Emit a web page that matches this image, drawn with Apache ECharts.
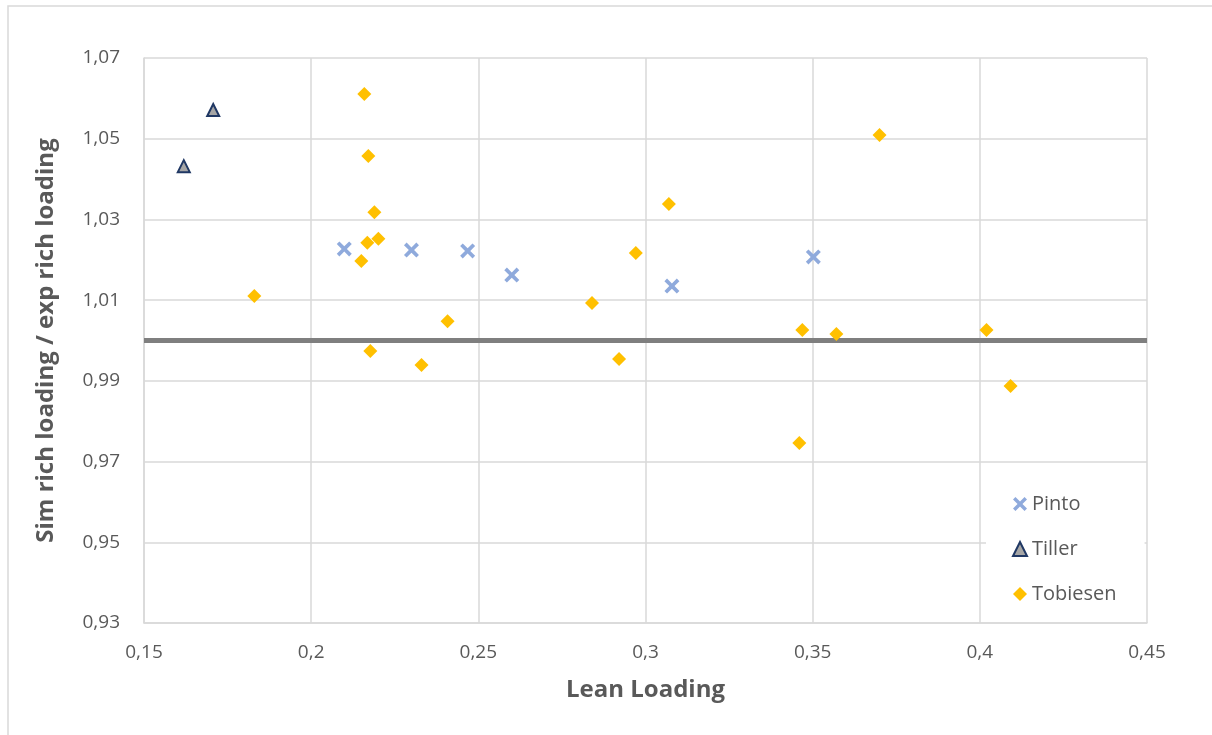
<!DOCTYPE html>
<html>
<head>
<meta charset="utf-8">
<script src="https://cdn.jsdelivr.net/npm/echarts@6/dist/echarts.min.js"></script>
<style>
  html, body { margin: 0; padding: 0; background: #fff; }
  #chart { width: 1212px; height: 735px; }
</style>
</head>
<body>
<div id="chart"></div>
<script>
const pintoX = [0.2099, 0.2300, 0.2468, 0.2600, 0.3079, 0.3502]
const pintoY = [1.0227, 1.0224, 1.0222, 1.0162, 1.0135, 1.0207]

const tillerX = [0.1619, 0.1707]
const tillerY = [1.0432, 1.0571]

const tobiesenX = [0.1830, 0.2159, 0.2171, 0.2189, 0.2168, 0.2201, 0.2150, 0.2177, 0.2330, 0.2408,
  0.2840, 0.2921, 0.2971, 0.3070, 0.3700, 0.3469, 0.3571, 0.3460, 0.4020, 0.4092]
const tobiesenY = [1.0110, 1.0611, 1.0457, 1.0318, 1.0242, 1.0252, 1.0197, 0.9974, 0.9939, 1.0048,
  1.0093, 0.9954, 1.0217, 1.0338, 1.0509, 1.0026, 1.0016, 0.9746, 1.0026, 0.9887]

const refLine = 1.0

const pairs = (xs, ys) => xs.map((x, i) => [x, ys[i]])

// thick x for Pinto
const crossPath = 'path://M0,3.5 L3.5,0 L10,6.5 L16.5,0 L20,3.5 L13.5,10 L20,16.5 L16.5,20 L10,13.5 L3.5,20 L0,16.5 L6.5,10 Z'
const font = '"Open Sans", "Liberation Sans", sans-serif'

const chart = echarts.init(document.getElementById('chart'))
chart.setOption({
  backgroundColor: '#fff',
  animation: false,
  textStyle: { fontFamily: font },
  graphic: [{
    type: 'rect',
    shape: { x: 8, y: 6, width: 1230, height: 760 },
    style: { fill: 'none', stroke: '#d9d9d9', lineWidth: 1.5 },
    z: -1
  }],
  grid: { left: 144, right: 65, top: 58, bottom: 112 },
  xAxis: {
    type: 'value',
    min: 0.15, max: 0.45, interval: 0.05,
    name: 'Lean Loading',
    nameLocation: 'middle',
    nameGap: 55,
    nameTextStyle: { fontSize: 24, fontWeight: 'bold', color: '#595959', fontFamily: font },
    axisLine: { show: true, lineStyle: { color: '#d9d9d9', width: 1.5 } },
    axisTick: { show: false },
    axisLabel: {
      fontSize: 19, color: '#595959', margin: 20, fontFamily: font,
      formatter: v => String(Math.round(v * 100) / 100).replace('.', ',')
    },
    splitLine: { show: true, lineStyle: { color: '#d9d9d9', width: 1.5 } }
  },
  yAxis: {
    type: 'value',
    min: 0.93, max: 1.07, interval: 0.02,
    name: 'Sim rich loading / exp rich loading',
    nameLocation: 'middle',
    nameGap: 86,
    nameTextStyle: { fontSize: 24, fontWeight: 'bold', color: '#595959', fontFamily: font },
    axisLine: { show: true, lineStyle: { color: '#d9d9d9', width: 1.5 } },
    axisTick: { show: false },
    axisLabel: {
      fontSize: 19, color: '#595959', margin: 24, fontFamily: font,
      formatter: v => v.toFixed(2).replace('.', ',')
    },
    splitLine: { show: true, lineStyle: { color: '#d9d9d9', width: 1.5 } }
  },
  legend: {
    orient: 'vertical',
    left: 986, top: 476,
    itemGap: 25,
    itemWidth: 14, itemHeight: 14,
    backgroundColor: '#fff',
    padding: [18, 28, 17, 26],
    textStyle: { fontSize: 20, color: '#595959', fontFamily: font },
    data: ['Pinto', 'Tiller', 'Tobiesen']
  },
  series: [
    {
      name: 'Pinto',
      type: 'scatter',
      symbol: crossPath,
      symbolSize: 15,
      itemStyle: { color: '#8faadc', opacity: 1 },
      data: pairs(pintoX, pintoY),
      markLine: {
        silent: true,
        symbol: 'none',
        label: { show: false },
        lineStyle: { color: '#7f7f7f', width: 5, type: 'solid' },
        data: [{ yAxis: refLine }],
        z: 1
      }
    },
    {
      name: 'Tiller',
      type: 'scatter',
      symbol: 'triangle',
      symbolSize: 12,
      itemStyle: { color: '#a6a6a6', borderColor: '#203864', borderWidth: 2, opacity: 1 },
      data: pairs(tillerX, tillerY)
    },
    {
      name: 'Tobiesen',
      type: 'scatter',
      symbol: 'diamond',
      symbolSize: 14,
      itemStyle: { color: '#ffc000', opacity: 1 },
      data: pairs(tobiesenX, tobiesenY)
    }
  ]
})
</script>
</body>
</html>
